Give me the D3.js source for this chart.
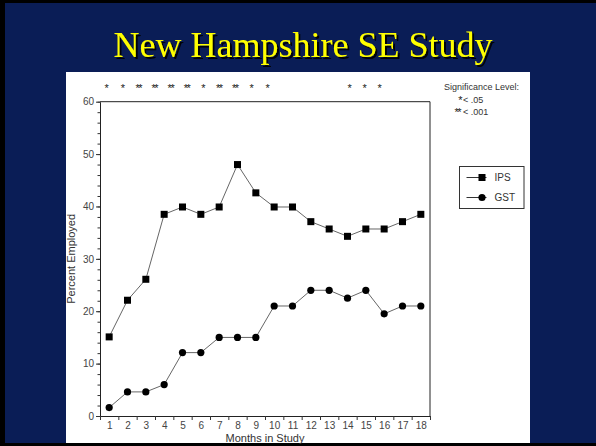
<!DOCTYPE html>
<html>
<head>
<meta charset="utf-8">
<script src="https://cdn.jsdelivr.net/npm/d3@7"></script>
<style>
  body { margin: 0; background: #000; }
  svg { display: block; }
  .tick text { font-family: "Liberation Sans", Arial, sans-serif; font-size: 10px; fill: #444; }
</style>
</head>
<body>
<svg width="596" height="446"></svg>
<script>
// months along the x axis
const months = d3.range(1, 19);

// percent employed by group
const ips = [15.1, 22.1, 26.1, 38.5, 39.9, 38.5, 39.9, 48.0, 42.6, 39.9, 39.9, 37.1, 35.7, 34.3, 35.7, 35.7, 37.1, 38.5];
const gst = [1.6, 4.6, 4.6, 6.0, 12.1, 12.1, 15.0, 15.0, 15.0, 21.0, 21.0, 24.0, 24.0, 22.5, 24.0, 19.5, 21.0, 21.0];

// significance markers per month ("" = not significant)
const sig = ["*", "*", "**", "**", "**", "**", "*", "**", "**", "*", "*", "", "", "*", "*", "*", "", ""];

const yTicks = [0, 10, 20, 30, 40, 50, 60];
const seriesNames = ["IPS", "GST"];
const sigLegend = ["Significance Level:", "< .05", "< .001"];
const sigSymbols = ["*", "**"];

const svg = d3.select("svg");
const W = 596, H = 446;

// drop shadow for the title
const defs = svg.append("defs");
defs.append("filter")
    .attr("id", "shadow")
    .attr("x", "-5%").attr("y", "-20%").attr("width", "110%").attr("height", "140%")
    .append("feDropShadow")
    .attr("dx", 2).attr("dy", 2)
    .attr("stdDeviation", 0.6)
    .attr("flood-color", "#000")
    .attr("flood-opacity", 0.9);

// slide background
svg.append("rect").attr("width", W).attr("height", H).attr("fill", "#000");
svg.append("rect").attr("x", 5).attr("y", 3).attr("width", W - 5).attr("height", 440).attr("fill", "#0a1d56");

svg.append("text")
    .attr("x", 303).attr("y", 57)
    .attr("text-anchor", "middle")
    .attr("font-family", "'Liberation Serif', 'Times New Roman', serif")
    .attr("font-size", 36)
    .attr("fill", "#ffff00")
    .attr("filter", "url(#shadow)")
    .text("New Hampshire SE Study");

// white chart panel
svg.append("rect").attr("x", 66).attr("y", 72).attr("width", 464).attr("height", 371).attr("fill", "#fff");

const pl = 100, pr = 430, pt = 101.7, pb = 416;

const x = d3.scaleLinear().domain([0.5, 18.5]).range([pl, pr]);
const y = d3.scaleLinear().domain([0, 60]).range([pb, pt]);

const g = svg.append("g");

// frame top + right
g.append("path")
    .attr("d", `M${pl},${pt}H${pr}V${pb}`)
    .attr("fill", "none")
    .attr("stroke", "#222")
    .attr("stroke-width", 1);

// y axis: minor ticks
g.append("g")
    .attr("transform", `translate(${pl},0)`)
    .call(d3.axisLeft(y).tickValues(d3.range(0, 61, 2)).tickSize(2.5).tickFormat(""))
    .call(a => a.select(".domain").remove())
    .selectAll("line").attr("stroke", "#333");

// y axis: major ticks
g.append("g")
    .attr("transform", `translate(${pl},0)`)
    .call(d3.axisLeft(y).tickValues(yTicks).tickSize(4).tickPadding(2).tickSizeOuter(0))
    .call(a => a.select(".domain").attr("stroke", "#222"))
    .call(a => a.selectAll("line").attr("stroke", "#333"));

// x axis: tick marks between months
g.append("g")
    .attr("transform", `translate(0,${pb})`)
    .call(d3.axisBottom(x).tickValues(d3.range(0.5, 19, 1)).tickSize(4).tickFormat("").tickSizeOuter(0))
    .call(a => a.select(".domain").attr("stroke", "#222"))
    .call(a => a.selectAll("line").attr("stroke", "#333"));

// x axis: month labels
g.append("g")
    .attr("transform", `translate(0,${pb})`)
    .call(d3.axisBottom(x).tickValues(months).tickSize(0).tickPadding(6))
    .call(a => a.select(".domain").remove());

// axis titles
svg.append("text")
    .attr("transform", `translate(75,${(pt + pb) / 2}) rotate(-90)`)
    .attr("text-anchor", "middle")
    .attr("font-family", "'Liberation Sans', Arial, sans-serif")
    .attr("font-size", 11)
    .attr("fill", "#333")
    .text("Percent Employed");

svg.append("text")
    .attr("x", (pl + pr) / 2).attr("y", 442)
    .attr("text-anchor", "middle")
    .attr("font-family", "'Liberation Sans', Arial, sans-serif")
    .attr("font-size", 11)
    .attr("fill", "#333")
    .text("Months in Study");

// lines
const line = d3.line().x((d, i) => x(months[i])).y(d => y(d));
[ips, gst].forEach(s => {
    g.append("path")
        .datum(s)
        .attr("d", line)
        .attr("fill", "none")
        .attr("stroke", "#666")
        .attr("stroke-width", 1);
});

// markers
g.selectAll("rect.ips")
    .data(ips)
    .join("rect")
    .attr("class", "ips")
    .attr("x", (d, i) => x(months[i]) - 3.5)
    .attr("y", d => y(d) - 3.5)
    .attr("width", 7).attr("height", 7)
    .attr("fill", "#000");

g.selectAll("circle.gst")
    .data(gst)
    .join("circle")
    .attr("class", "gst")
    .attr("cx", (d, i) => x(months[i]))
    .attr("cy", d => y(d))
    .attr("r", 3.6)
    .attr("fill", "#000");

// significance stars (spaced as in the original text row)
const sx = d3.scaleLinear().domain([1, 11, 14, 16]).range([106, 267, 349, 379]);
g.selectAll("text.sig")
    .data(months.filter((m, i) => sig[i]))
    .join("text")
    .attr("class", "sig")
    .attr("x", m => sx(m))
    .attr("y", 92)
    .attr("text-anchor", "middle")
    .attr("font-family", "'Liberation Sans', Arial, sans-serif")
    .attr("font-size", 11)
    .attr("letter-spacing", -1.5)
    .attr("fill", "#222")
    .text(m => sig[m - 1]);

// significance legend
svg.append("text")
    .attr("x", 444).attr("y", 90)
    .attr("font-family", "'Liberation Sans', Arial, sans-serif")
    .attr("font-size", 9)
    .attr("fill", "#333")
    .text(sigLegend[0]);
[0, 1].forEach(i => {
    svg.append("text")
        .attr("x", i === 0 ? 461 : 460).attr("y", 104 + i * 12)
        .attr("text-anchor", "end")
        .attr("font-family", "'Liberation Sans', Arial, sans-serif")
        .attr("font-size", 11)
        .attr("letter-spacing", -1.5)
        .attr("fill", "#222")
        .text(sigSymbols[i]);
    svg.append("text")
        .attr("x", 463).attr("y", 103 + i * 12)
        .attr("font-family", "'Liberation Sans', Arial, sans-serif")
        .attr("font-size", 9)
        .attr("fill", "#333")
        .text(sigLegend[i + 1]);
});

// series legend
const lg = svg.append("g").attr("transform", "translate(459.5,166.5)");
lg.append("rect").attr("width", 64.5).attr("height", 42).attr("fill", "#fff").attr("stroke", "#333");
seriesNames.forEach((name, i) => {
    const row = lg.append("g").attr("transform", `translate(0,${11 + i * 20})`);
    row.append("line").attr("x1", 7).attr("x2", 27).attr("stroke", "#333");
    if (i === 0) {
        row.append("rect").attr("x", 19).attr("y", -3.5).attr("width", 7).attr("height", 7).attr("fill", "#000");
    } else {
        row.append("circle").attr("cx", 22.5).attr("r", 3.6).attr("fill", "#000");
    }
    row.append("text")
        .attr("x", 35).attr("y", 3.5)
        .attr("font-family", "'Liberation Sans', Arial, sans-serif")
        .attr("font-size", 10)
        .attr("fill", "#333")
        .text(name);
});
</script>
</body>
</html>
